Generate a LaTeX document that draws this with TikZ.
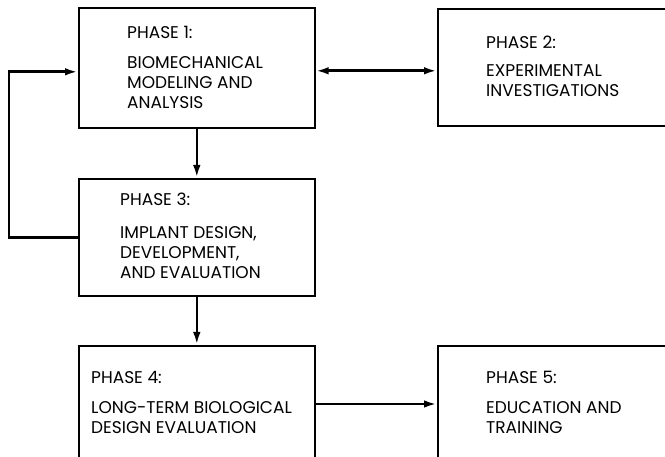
\documentclass[tikz,border=0pt]{standalone}
\usepackage{fontspec}
\setmainfont{Poppins}
\usetikzlibrary{arrows.meta}
\begin{document}
\begin{tikzpicture}[x=1pt,y=1pt,
  box/.style={draw=black,line width=1.6pt,rectangle,inner sep=0pt,anchor=north west},
  lbl/.style={anchor=north west,inner sep=0pt,align=left,font=\fontsize{17}{20}\selectfont},
  conn/.style={line width=2.6pt,-{Latex[length=13pt,width=7.5pt]}},
  conn2/.style={line width=2.6pt,{Latex[length=13pt,width=7.5pt]}-{Latex[length=13pt,width=7.5pt]}}]
\useasboundingbox (0,0) rectangle (665,-457);
\clip (0,0) rectangle (665,-457);
% boxes
\node[box,minimum width=236pt,minimum height=120pt] (b1) at (78,-7) {};
\node[box,minimum width=260pt,minimum height=117pt] (b2) at (437,-8) {};
\node[box,minimum width=236pt,minimum height=117pt] (b3) at (78,-178) {};
\node[box,minimum width=236pt,minimum height=140pt] (b4) at (78,-345) {};
\node[box,minimum width=260pt,minimum height=140pt] (b5) at (437,-345) {};
% texts
\node[lbl] (t1) at (127,-26) {PHASE 1:\\[10pt]BIOMECHANICAL\\MODELING AND\\ANALYSIS};
\node[lbl] (t2) at (486,-36) {PHASE 2:\\[8pt]EXPERIMENTAL\\INVESTIGATIONS};
\node[lbl] (t3) at (120,-193) {PHASE 3:\\[13pt]IMPLANT DESIGN,\\DEVELOPMENT,\\AND EVALUATION};
\node[lbl] (t4) at (91,-371) {PHASE 4:\\[10pt]LONG-TERM BIOLOGICAL\\DESIGN EVALUATION};
\node[lbl] (t5) at (486,-371) {PHASE 5:\\[10pt]EDUCATION AND\\TRAINING};
% connectors
\draw[conn2] ([yshift=-3pt]b1.east) -- ([yshift=-3pt]b1.east -| b2.west);
\draw[conn] (b1.south) -- (b3.north);
\draw[conn] (b3.south) -- (b4.north);
\draw[conn] ([yshift=-59pt]b4.north east) -- ([yshift=-59pt]b5.north west);
\draw[conn] (b3.west) -- ++(-69,0) |- ([yshift=-4pt]b1.west);
\end{tikzpicture}
\end{document}
